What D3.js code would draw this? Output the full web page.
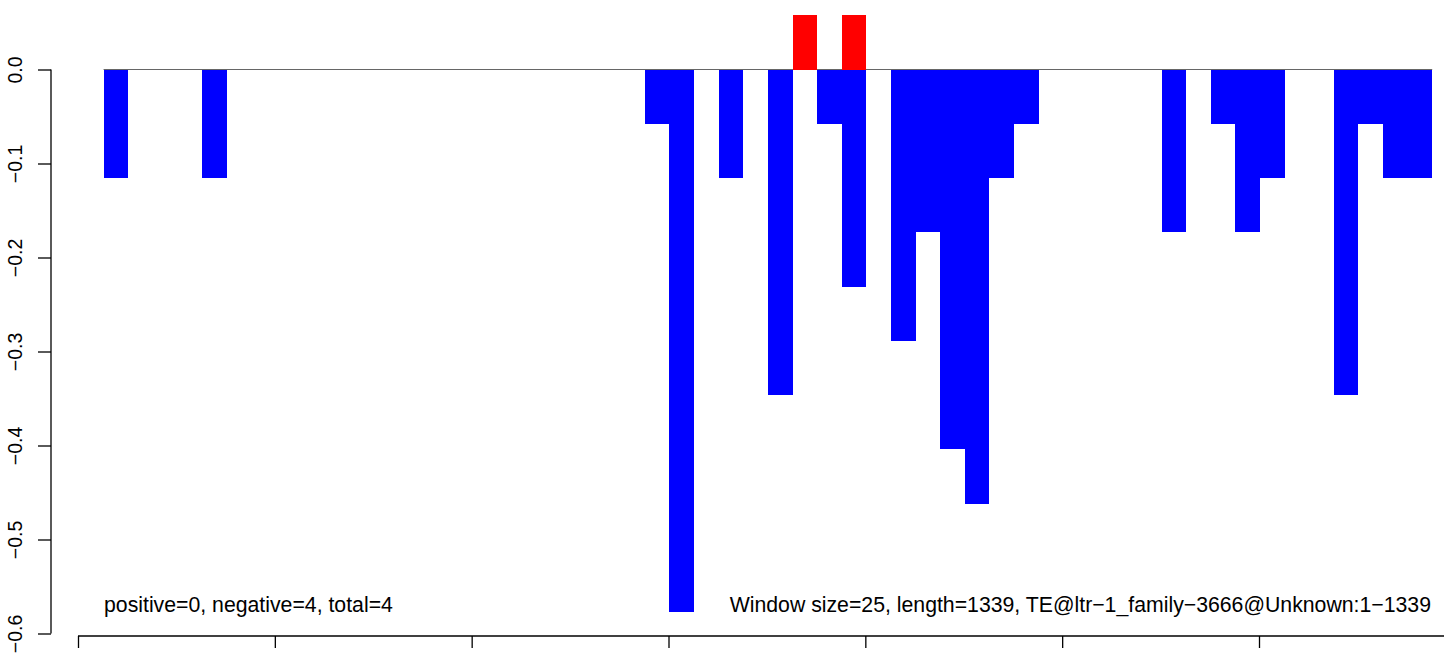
<!DOCTYPE html>
<html>
<head>
<meta charset="utf-8">
<script src="https://cdn.jsdelivr.net/npm/d3@7"></script>
<style>
  html, body { margin: 0; padding: 0; background: #fff; }
  svg { display: block; }
  text { font-family: "Liberation Sans", Arial, Helvetica, sans-serif; fill: #000; }
</style>
</head>
<body>
<svg id="chart" width="1444" height="655"></svg>
<script>
// ---- data ----
const windowSize = 25;
const seqLength = 1339;
// window indices (bar k spans k*25+1 .. (k+1)*25+1 bp)
const negWindows = [1, 5, 23, 24, 26, 28, 30, 31, 33, 34, 35, 36, 37, 38, 44, 46, 47, 48, 51, 52, 53, 54];
const negValues  = [-0.1155, -0.1155, -0.0577, -0.5774, -0.1155, -0.3464, -0.0577, -0.2309, -0.2887, -0.1732,
                    -0.4041, -0.4619, -0.1155, -0.0577, -0.1732, -0.0577, -0.1732, -0.1155, -0.3464, -0.0577,
                    -0.1155, -0.1155];
const posWindows = [29, 31];
const posValues  = [0.0577, 0.0577];
const yTicks = [0, -0.1, -0.2, -0.3, -0.4, -0.5, -0.6];
const yTickLabels = ["0.0", "\u22120.1", "\u22120.2", "\u22120.3", "\u22120.4", "\u22120.5", "\u22120.6"];
const xTicks = [0, 200, 400, 600, 800, 1000, 1200, 1400];
const leftNote = "positive=0, negative=4, total=4";
const rightNote = "Window size=25, length=1339, TE@ltr\u22121_family\u22123666@Unknown:1\u22121339";

// ---- layout ----
const svg = d3.select("#chart");
const x = d3.scaleLinear().domain([0, 1200]).range([78, 1259]);
const y = d3.scaleLinear().domain([-0.6, 0]).range([633.5, 69.5]);

const neg = negWindows.map((w, i) => ({ w, v: negValues[i] }));
const pos = posWindows.map((w, i) => ({ w, v: posValues[i] }));
const x0 = w => x(w * windowSize + 1);
const x1 = w => x((w + 1) * windowSize + 1);

// baseline
svg.append("line")
  .attr("x1", x(windowSize + 1)).attr("x2", x(55 * windowSize + 1))
  .attr("y1", y(0)).attr("y2", y(0))
  .attr("stroke", "#666").attr("stroke-width", 1);

// negative bars
svg.append("g").selectAll("rect").data(neg).join("rect")
  .attr("x", d => x0(d.w))
  .attr("width", d => x1(d.w) - x0(d.w))
  .attr("y", y(0))
  .attr("height", d => y(d.v) - y(0))
  .attr("fill", "#0000ff")
  .attr("shape-rendering", "crispEdges");

// positive bars
svg.append("g").selectAll("rect").data(pos).join("rect")
  .attr("x", d => x0(d.w))
  .attr("width", d => x1(d.w) - x0(d.w))
  .attr("y", d => y(d.v))
  .attr("height", d => y(0) - y(d.v))
  .attr("fill", "#ff0000")
  .attr("shape-rendering", "crispEdges");

// y axis
const yAxis = d3.axisLeft(y).tickValues(yTicks).tickSize(13)
  .tickFormat((d, i) => yTickLabels[i]);
const gy = svg.append("g").attr("transform", "translate(51,0)").call(yAxis);
gy.select(".domain").attr("d", `M0,${y(0)}V${y(-0.6)}`).attr("stroke", "#000").attr("stroke-width", 1.3);
gy.selectAll(".tick line").attr("stroke", "#000").attr("stroke-width", 1.3);
gy.selectAll(".tick text")
  .attr("x", 0).attr("y", 0).attr("dy", null)
  .attr("transform", "translate(-29,0) rotate(-90)")
  .attr("text-anchor", "middle")
  .style("font-size", "19.5px")
  .style("font-family", "Liberation Sans, Arial, sans-serif")
  .attr("fill", "#000");

// x axis (labels fall outside the picture)
const xAxis = d3.axisBottom(x).tickValues(xTicks).tickSize(12).tickFormat("");
const gx = svg.append("g").attr("transform", "translate(0,636)").call(xAxis);
gx.select(".domain").attr("d", `M${x(0)},0H${x(1400)}`).attr("stroke", "#000").attr("stroke-width", 1.3);
gx.selectAll(".tick line").attr("stroke", "#000").attr("stroke-width", 1.3);

// notes
svg.append("text").attr("x", 104).attr("y", 612)
  .style("font-size", "21.25px").text(leftNote);
svg.append("text").attr("x", 1431).attr("y", 612).attr("text-anchor", "end")
  .style("font-size", "21.25px").text(rightNote);
</script>
</body>
</html>
